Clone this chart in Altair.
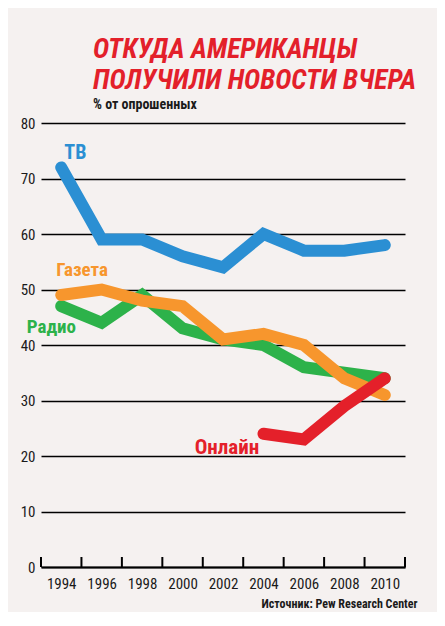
import altair as alt
import pandas as pd

years = [1994, 1996, 1998, 2000, 2002, 2004, 2006, 2008, 2010]
tv = [72, 59, 59, 56, 54, 60, 57, 57, 58]
radio = [47, 44, 49, 43, 41, 40, 36, 35, 34]
newspaper = [49, 50, 48, 47, 41, 42, 40, 34, 31]
online_years = [2004, 2006, 2008, 2010]
online = [24, 23, 29, 34]

series_names = ["ТВ", "Радио", "Газета", "Онлайн"]
series_colors = ["#2b8fd3", "#2db24a", "#f7962d", "#e4202a"]

tick_years = [1993, 1995, 1997, 1999, 2001, 2003, 2005, 2007, 2009, 2011]
label_years = [1994.7, 1992.3, 1993.75, 2000.6]
label_values = [74.6, 43.2, 53.5, 21.4]
label_align = ["center", "left", "left", "left"]
label_sizes = [20, 19, 19, 21]

FONT = "'Liberation Sans Narrow', 'Roboto Condensed', 'Arial Narrow', Roboto, sans-serif"

rows = []
for y, v in zip(years, tv):
    rows.append({"year": y, "value": v, "series": "ТВ"})
for y, v in zip(years, radio):
    rows.append({"year": y, "value": v, "series": "Радио"})
for y, v in zip(years, newspaper):
    rows.append({"year": y, "value": v, "series": "Газета"})
for y, v in zip(online_years, online):
    rows.append({"year": y, "value": v, "series": "Онлайн"})
df = pd.DataFrame(rows)

labels = pd.DataFrame({"year": label_years, "value": label_values,
                       "series": series_names, "al": label_align,
                       "fs": label_sizes})
ticks = pd.DataFrame({"year": tick_years, "y0": [0] * len(tick_years),
                      "y1": [1.8] * len(tick_years)})

xscale = alt.Scale(domain=[1993, 2011], nice=False, zero=False)
yscale = alt.Scale(domain=[0, 80], nice=False)
cscale = alt.Scale(domain=series_names, range=series_colors)

x_axis = alt.Axis(values=years, format="d", tickSize=0, labelPadding=9,
                  labelFontSize=15, labelFont=FONT, labelColor="#1a1a1a",
                  domainColor="#000", domainWidth=2, grid=False,
                  title="Источник: Pew Research Center", titleFont=FONT,
                  titleFontSize=12, titleFontWeight="bold", titleColor="#1a1a1a",
                  titleAnchor="end", titleAlign="right", titleX=376, titleY=36,
                  titleBaseline="middle")
y_axis = alt.Axis(values=list(range(0, 81, 10)), tickSize=0, labelPadding=6,
                  labelFontSize=15, labelFont=FONT, labelColor="#1a1a1a",
                  domain=False, grid=True, gridColor="#000", gridWidth=1.4,
                  title=None)

line_layers = [
    alt.Chart(df[df["series"] == s]).mark_line(strokeWidth=12, strokeCap="round", strokeJoin="miter").encode(
        x=alt.X("year:Q", scale=xscale, axis=x_axis),
        y=alt.Y("value:Q", scale=yscale, axis=y_axis),
        color=alt.Color("series:N", scale=cscale, legend=None),
    )
    for s in series_names
]

tick_rules = alt.Chart(ticks).mark_rule(color="#000", strokeWidth=2).encode(
    x=alt.X("year:Q", scale=xscale),
    y=alt.Y("y0:Q", scale=yscale),
    y2="y1:Q",
)

text_center = alt.Chart(labels[labels["al"] == "center"]).mark_text(
    font=FONT, fontWeight="bold", align="center", baseline="middle", clip=False
).encode(
    x=alt.X("year:Q", scale=xscale), y=alt.Y("value:Q", scale=yscale),
    text="series:N", color=alt.Color("series:N", scale=cscale, legend=None),
    size=alt.Size("fs:Q", scale=None, legend=None),
)
text_left = alt.Chart(labels[labels["al"] == "left"]).mark_text(
    font=FONT, fontWeight="bold", align="left", baseline="middle", clip=False
).encode(
    x=alt.X("year:Q", scale=xscale), y=alt.Y("value:Q", scale=yscale),
    text="series:N", color=alt.Color("series:N", scale=cscale, legend=None),
    size=alt.Size("fs:Q", scale=None, legend=None),
)

chart = alt.layer(*line_layers, tick_rules, text_center, text_left).properties(
    width=364,
    height=444,
    autosize=alt.AutoSizeParams(type="none"),
    padding={"left": 33, "top": 115, "right": 32, "bottom": 45},
    background="#f5f1f0",
    title=alt.TitleParams(
        text=["ОТКУДА АМЕРИКАНЦЫ", "ПОЛУЧИЛИ НОВОСТИ ВЧЕРА"],
        subtitle="% от опрошенных",
        anchor="start", frame="group", dx=52, offset=4,
        font=FONT, fontSize=27.5, fontWeight="bold", fontStyle="italic",
        color="#e3202a", lineHeight=31,
        subtitleFont=FONT, subtitleFontSize=14, subtitleFontWeight="bold",
        subtitleColor="#1a1a1a", subtitlePadding=4,
    ),
).configure_view(stroke=None)

chart.save("out.html", embed_options={"renderer": "svg", "actions": False})
